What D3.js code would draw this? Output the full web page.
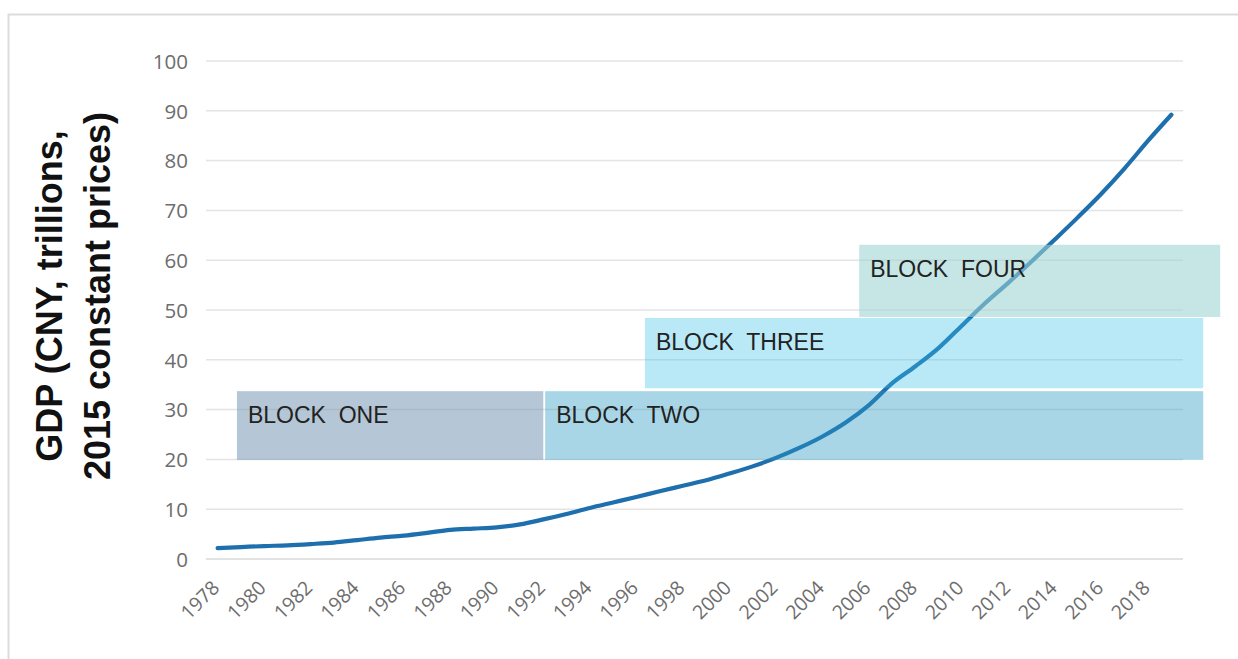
<!DOCTYPE html>
<html>
<head>
<meta charset="utf-8">
<script src="https://cdn.jsdelivr.net/npm/d3@7"></script>
<style>
  html, body { margin: 0; padding: 0; background: #fff; }
  svg { display: block; }
</style>
</head>
<body>
<svg id="chart" width="1238" height="659"></svg>
<script>
// Real GDP, CNY trillions at 2015 constant prices
const years = d3.range(1978, 2020);
const gdp = [
  2.2, 2.4, 2.6, 2.75, 3.0, 3.3, 3.8, 4.3, 4.7, 5.25,
  5.85, 6.1, 6.35, 6.95, 7.95, 9.05, 10.25, 11.35, 12.45, 13.6,
  14.7, 15.8, 17.15, 18.6, 20.3, 22.3, 24.6, 27.4, 30.9, 35.3,
  38.7, 42.4, 46.9, 51.4, 55.5, 59.8, 64.2, 68.7, 73.4, 78.5,
  84.0, 89.2
];
const yTicks = [0, 10, 20, 30, 40, 50, 60, 70, 80, 90, 100];
const xTickYears = d3.range(1978, 2019, 2);

// Shaded period blocks (year span and value span)
const blockNames = ["BLOCK  ONE", "BLOCK  TWO", "BLOCK  THREE", "BLOCK  FOUR"];
const blockStart = [1978.83, 1992.08, 1996.37, 2005.58];
const blockEnd   = [1992.0, 2020.37, 2020.37, 2021.1];
const blockLow   = [19.9, 19.9, 34.3, 48.6];
const blockHigh  = [33.7, 33.7, 48.4, 63.1];
const blockFill  = ["#6b8fad", "#2898c0", "#37c0e8", "#9dd4d3"];
const blockAlpha = [0.5, 0.4, 0.35, 0.58];

const svg = d3.select("#chart");

// outer frame
svg.append("rect")
  .attr("x", 8.5).attr("y", 14.5)
  .attr("width", 1300).attr("height", 700)
  .attr("fill", "none")
  .attr("stroke", "#dcdcdc")
  .attr("stroke-width", 2);

const plotLeft = 206, plotRight = 1183, plotTop = 61, plotBottom = 559;

const x = d3.scaleBand().domain(years).range([plotLeft, plotRight]).padding(0);
const xc = d => x(d) + x.bandwidth() / 2;
const xYear = d3.scaleLinear()
  .domain([1978, 2019])
  .range([xc(1978), xc(2019)]);
const y = d3.scaleLinear().domain([0, 100]).range([plotBottom, plotTop]);

// gridlines
svg.append("g")
  .selectAll("line")
  .data(yTicks)
  .join("line")
  .attr("x1", plotLeft).attr("x2", plotRight)
  .attr("y1", d => y(d)).attr("y2", d => y(d))
  .attr("stroke", d => d === 0 ? "#d9d9d9" : "#e4e4e4")
  .attr("stroke-width", 1.5);

// y tick labels
const yAxis = d3.axisLeft(y).tickValues(yTicks).tickSize(0).tickPadding(0);
const gy = svg.append("g")
  .attr("transform", `translate(188,0)`)
  .call(yAxis);
gy.select(".domain").remove();
gy.selectAll("text")
  .attr("font-family", "'Open Sans', sans-serif")
  .attr("font-size", 20.5)
  .attr("fill", "#6d6d6d")
  .attr("dy", "0.36em");

// x tick labels
const xAxis = d3.axisBottom(x).tickValues(xTickYears).tickSize(0).tickPadding(0);
const gx = svg.append("g")
  .attr("transform", `translate(0,${plotBottom})`)
  .call(xAxis);
gx.select(".domain").remove();
gx.selectAll(".tick text")
  .attr("font-family", "'Open Sans', sans-serif")
  .attr("font-size", 19.5)
  .attr("fill", "#6d6d6d")
  .attr("text-anchor", "end")
  .attr("y", 0).attr("dy", 0)
  .attr("transform", "translate(3,30) rotate(-45)");

// GDP line
const line = d3.line()
  .x((d, i) => xc(years[i]))
  .y(d => y(d))
  .curve(d3.curveMonotoneX);
svg.append("path")
  .datum(gdp)
  .attr("d", line)
  .attr("fill", "none")
  .attr("stroke", "#1d6fad")
  .attr("stroke-width", 4.2)
  .attr("stroke-linecap", "round")
  .attr("stroke-linejoin", "round");

// period blocks drawn over the line
const blocks = blockNames.map((name, i) => ({
  name, x0: blockStart[i], x1: blockEnd[i], lo: blockLow[i], hi: blockHigh[i],
  fill: blockFill[i], alpha: blockAlpha[i]
}));
const gb = svg.append("g");
gb.selectAll("rect")
  .data(blocks)
  .join("rect")
  .attr("x", d => xYear(d.x0))
  .attr("y", d => y(d.hi))
  .attr("width", d => xYear(d.x1) - xYear(d.x0))
  .attr("height", d => y(d.lo) - y(d.hi))
  .attr("fill", d => d.fill)
  .attr("fill-opacity", d => d.alpha);
gb.selectAll("text")
  .data(blocks)
  .join("text")
  .attr("x", d => xYear(d.x0) + 11)
  .attr("y", d => y(d.hi) + 32)
  .attr("font-family", "'Liberation Sans', Arial, sans-serif")
  .attr("font-size", 23)
  .attr("fill", "#222")
  .style("white-space", "pre")
  .text(d => d.name);

// y axis title
const title = svg.append("text")
  .attr("transform", "translate(0,296) rotate(-90)")
  .attr("text-anchor", "middle")
  .attr("font-family", "'Liberation Sans', Arial, sans-serif")
  .attr("font-weight", "bold")
  .attr("font-size", 36)
  .attr("fill", "#111");
title.append("tspan").attr("x", 0).attr("y", 62).text("GDP (CNY, trillions,");
title.append("tspan").attr("x", 0).attr("y", 110).text("2015 constant prices)");
</script>
</body>
</html>
